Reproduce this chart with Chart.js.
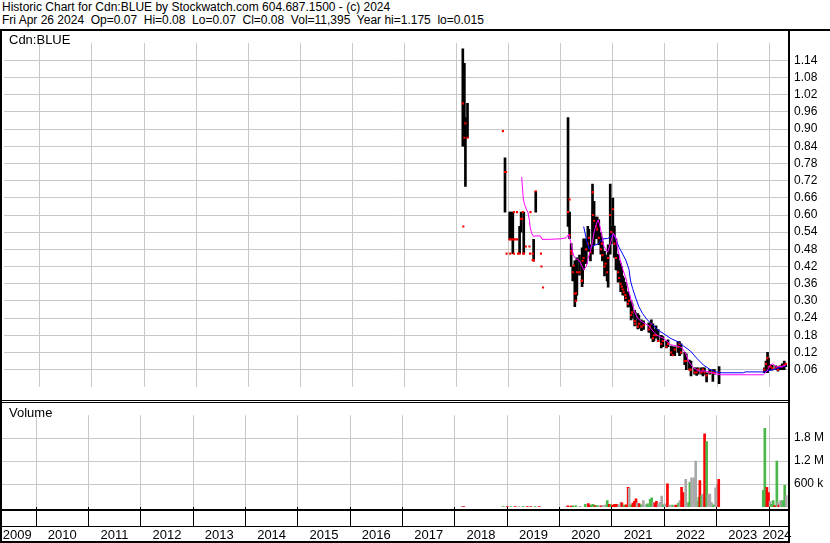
<!DOCTYPE html>
<html>
<head>
<meta charset="utf-8">
<script src="https://cdn.jsdelivr.net/npm/chart.js"></script>
<style>
  body { margin: 0; background: #fff; }
  #wrap { position: relative; width: 830px; height: 543px; overflow: hidden; font-family: "Liberation Sans", Arial, sans-serif; color: #000; }
  .hdr { position: absolute; left: 2px; font-size: 12px; line-height: 13px; white-space: pre; }
  .lbl { position: absolute; left: 9px; font-size: 13px; line-height: 14px; }
  .ln { position: absolute; background: #000; }
  canvas { position: absolute; left: 0; }
</style>
</head>
<body>
<div id="wrap">
  <div class="hdr" style="top:1px">Historic Chart for Cdn:BLUE by Stockwatch.com 604.687.1500 - (c) 2024</div>
  <div class="hdr" style="top:14px">Fri Apr 26 2024  Op=0.07  Hi=0.08  Lo=0.07  Cl=0.08  Vol=11,395  Year hi=1.175  lo=0.015</div>

  <canvas id="price" width="830" height="368" style="top:31px"></canvas>
  <canvas id="volume" width="830" height="140" style="top:403px"></canvas>

  <div class="lbl" style="top:33px">Cdn:BLUE</div>
  <div class="lbl" style="top:406px">Volume</div>

  <!-- frame lines -->
  <div class="ln" style="left:0;top:29px;width:830px;height:2px"></div>
  <div class="ln" style="left:0;top:29px;width:2px;height:514px"></div>
  <div class="ln" style="left:788px;top:29px;width:2px;height:514px"></div>
  <div class="ln" style="left:0;top:400px;width:789px;height:1px"></div>
  <div class="ln" style="left:0;top:402px;width:789px;height:1px"></div>
  <div class="ln" style="left:0;top:509px;width:789px;height:2px"></div>
  <div class="ln" style="left:0;top:526px;width:789px;height:1px"></div>
  <div class="ln" style="left:0;top:541px;width:789px;height:2px"></div>
</div>

<script>
// ---- data ----
// weekly price bars (decimal year, high, low, close)
const barDates = [2018.12, 2018.15, 2018.17, 2018.21, 2018.93, 2019.02, 2019.04, 2019.08, 2019.21, 2019.24, 2019.29, 2019.48, 2019.52,
  2020.14, 2020.17, 2020.20, 2020.23, 2020.27, 2020.29, 2020.31, 2020.36, 2020.41, 2020.42, 2020.44, 2020.49, 2020.52, 2020.54, 2020.57,
  2020.61, 2020.62, 2020.64, 2020.68, 2020.70, 2020.73, 2020.77, 2020.79, 2020.80, 2020.84, 2020.86, 2020.89, 2020.91, 2020.95, 2020.97,
  2021.00, 2021.03, 2021.06, 2021.10, 2021.12, 2021.15, 2021.17, 2021.19, 2021.21, 2021.24, 2021.25, 2021.29, 2021.31, 2021.35, 2021.37,
  2021.42, 2021.43, 2021.48, 2021.50, 2021.55, 2021.59, 2021.69, 2021.71, 2021.74, 2021.77, 2021.79, 2021.83, 2021.87, 2021.93, 2021.96,
  2022.03, 2022.06, 2022.12, 2022.15, 2022.19, 2022.25, 2022.28, 2022.31, 2022.38, 2022.41, 2022.47, 2022.50, 2022.57, 2022.61, 2022.64,
  2022.70, 2022.73, 2022.76, 2022.80, 2022.86, 2022.92, 2022.95, 2023.04,
  2023.91, 2023.94, 2023.97, 2023.99, 2024.03, 2024.06, 2024.13, 2024.17, 2024.21, 2024.25, 2024.29, 2024.32];
const barHighs = [1.18, 1.13, 0.94, 0.99, 0.80, 0.61, 0.61, 0.61, 0.56, 0.61, 0.61, 0.515, 0.683,
  0.94, 0.61, 0.50, 0.42, 0.44, 0.44, 0.45, 0.46, 0.485, 0.47, 0.517, 0.517, 0.56, 0.55, 0.496,
  0.708, 0.615, 0.648, 0.593, 0.593, 0.583, 0.539, 0.52, 0.507, 0.474, 0.46, 0.452, 0.496, 0.708, 0.56,
  0.659, 0.561, 0.517, 0.463, 0.44, 0.43, 0.42, 0.387, 0.38, 0.365, 0.35, 0.332, 0.32, 0.30, 0.29,
  0.267, 0.26, 0.256, 0.25, 0.234, 0.23, 0.223, 0.22, 0.234, 0.22, 0.20, 0.213, 0.20, 0.18, 0.175,
  0.16, 0.164, 0.142, 0.14, 0.14, 0.158, 0.158, 0.15, 0.12, 0.115, 0.093, 0.09, 0.066, 0.066, 0.066,
  0.066, 0.066, 0.066, 0.049, 0.06, 0.06, 0.06, 0.071,
  0.066, 0.09, 0.12, 0.10, 0.077, 0.075, 0.073, 0.07, 0.073, 0.08, 0.09, 0.08];
const barLows = [0.84, 0.84, 0.70, 0.87, 0.61, 0.515, 0.515, 0.465, 0.465, 0.54, 0.465, 0.44, 0.61,
  0.56, 0.517, 0.42, 0.37, 0.28, 0.30, 0.32, 0.39, 0.35, 0.36, 0.41, 0.43, 0.474, 0.474, 0.44,
  0.463, 0.54, 0.496, 0.517, 0.517, 0.496, 0.463, 0.47, 0.44, 0.387, 0.40, 0.37, 0.348, 0.463, 0.50,
  0.539, 0.452, 0.408, 0.365, 0.37, 0.332, 0.34, 0.321, 0.32, 0.30, 0.30, 0.278, 0.28, 0.234, 0.24,
  0.213, 0.215, 0.202, 0.205, 0.196, 0.20, 0.191, 0.19, 0.17, 0.158, 0.16, 0.17, 0.158, 0.136, 0.14,
  0.136, 0.14, 0.109, 0.11, 0.109, 0.12, 0.109, 0.115, 0.077, 0.06, 0.06, 0.038, 0.044, 0.04, 0.044,
  0.044, 0.038, 0.044, 0.017, 0.044, 0.019, 0.044, 0.011,
  0.049, 0.05, 0.049, 0.06, 0.06, 0.058, 0.06, 0.055, 0.06, 0.06, 0.06, 0.07];
const barCloses = [0.99, 0.87, 0.92, 0.87, 0.75, 0.515, 0.515, 0.515, 0.465, 0.587, 0.465, 0.44, 0.683,
  0.61, 0.53, 0.474, 0.40, 0.325, 0.30, 0.40, 0.40, 0.37, 0.44, 0.45, 0.48, 0.50, 0.52, 0.47,
  0.68, 0.60, 0.58, 0.56, 0.55, 0.52, 0.48, 0.50, 0.46, 0.42, 0.43, 0.40, 0.45, 0.60, 0.54,
  0.62, 0.50, 0.45, 0.40, 0.38, 0.36, 0.35, 0.34, 0.33, 0.32, 0.31, 0.29, 0.30, 0.25, 0.26,
  0.23, 0.22, 0.21, 0.22, 0.21, 0.215, 0.20, 0.21, 0.22, 0.17, 0.18, 0.18, 0.16, 0.15, 0.16,
  0.14, 0.15, 0.12, 0.11, 0.13, 0.14, 0.15, 0.12, 0.09, 0.09, 0.06, 0.06, 0.05, 0.05, 0.06,
  0.05, 0.06, 0.05, 0.04, 0.05, 0.05, 0.05, 0.05,
  0.06, 0.08, 0.10, 0.07, 0.07, 0.065, 0.065, 0.06, 0.07, 0.07, 0.075, 0.08];

// single-price days (high = low), drawn as lone red dots
const dotDates = [2018.13, 2018.89, 2018.95, 2018.96, 2019.03, 2019.10, 2019.18, 2019.28, 2019.41, 2019.46, 2019.62,
  2019.10, 2019.16, 2019.27, 2019.42, 2019.26, 2019.33, 2019.40, 2019.46, 2019.48, 2019.63, 2019.66, 2019.12, 2019.16,
  2020.17, 2020.21, 2020.25, 2020.29, 2020.40, 2020.62];
const dotPrices = [0.56, 0.893, 0.75, 0.465, 0.465, 0.465, 0.465, 0.465, 0.465, 0.465, 0.465,
  0.61, 0.61, 0.61, 0.61, 0.587, 0.49, 0.49, 0.443, 0.443, 0.42, 0.347, 0.515, 0.515,
  0.654, 0.465, 0.423, 0.327, 0.37, 0.68];

// short moving average (magenta)
const fastMaDates = [2019.25, 2019.28, 2019.30, 2019.34, 2019.37, 2019.40, 2019.41, 2019.44, 2019.48, 2019.51, 2019.61, 2019.64,
  2019.78, 2020.01, 2020.10, 2020.15, 2020.20, 2020.23, 2020.26, 2020.36, 2020.40, 2020.44, 2020.49, 2020.52, 2020.57, 2020.61,
  2020.64, 2020.69, 2020.72, 2020.76, 2020.80, 2020.83, 2020.90, 2020.96, 2021.01, 2021.06, 2021.09, 2021.14, 2021.19, 2021.25,
  2021.31, 2021.38, 2021.44, 2021.50, 2021.60, 2021.69, 2021.79, 2021.85, 2021.98, 2022.11, 2022.24, 2022.33, 2022.40, 2022.46,
  2022.55, 2022.65, 2022.78, 2022.90, 2023.00, 2023.10, 2023.89, 2023.96, 2024.02, 2024.07, 2024.15, 2024.24, 2024.32];
const fastMaValues = [0.733, 0.66, 0.64, 0.62, 0.61, 0.58, 0.56, 0.537, 0.525, 0.527, 0.527, 0.515,
  0.515, 0.517, 0.52, 0.532, 0.50, 0.47, 0.452, 0.44, 0.425, 0.408, 0.42, 0.445, 0.475, 0.505,
  0.54, 0.572, 0.583, 0.555, 0.517, 0.49, 0.47, 0.505, 0.536, 0.52, 0.485, 0.445, 0.41, 0.38,
  0.33, 0.285, 0.252, 0.235, 0.223, 0.213, 0.19, 0.18, 0.169, 0.147, 0.142, 0.136, 0.115, 0.087,
  0.066, 0.055, 0.055, 0.049, 0.044, 0.042, 0.042, 0.055, 0.076, 0.08, 0.069, 0.071, 0.076];

// long moving average (blue)
const slowMaDates = [2020.44, 2020.49, 2020.54, 2020.61, 2020.71, 2020.77, 2020.83, 2020.90, 2020.96, 2021.01, 2021.06, 2021.12,
  2021.19, 2021.25, 2021.31, 2021.34, 2021.38, 2021.44, 2021.50, 2021.57, 2021.66, 2021.79, 2021.85, 2021.98, 2022.11, 2022.24,
  2022.36, 2022.49, 2022.62, 2022.74, 2022.87, 2023.00, 2023.10, 2023.51, 2023.54, 2023.92, 2023.96, 2024.08, 2024.24, 2024.32];
const slowMaValues = [0.56, 0.517, 0.482, 0.492, 0.498, 0.51, 0.517, 0.518, 0.524, 0.534, 0.514, 0.487,
  0.463, 0.442, 0.41, 0.37, 0.343, 0.31, 0.28, 0.256, 0.234, 0.213, 0.20, 0.185, 0.169, 0.158,
  0.142, 0.125, 0.098, 0.076, 0.06, 0.051, 0.049, 0.049, 0.052, 0.052, 0.055, 0.06, 0.069, 0.073];

// weekly volume (decimal year, shares, direction u=up d=down n=unchanged)
const volDates = [2018.14, 2018.17, 2018.92, 2019.00, 2019.07, 2019.15, 2019.22, 2019.30, 2019.38, 2019.45, 2019.53, 2019.61,
  2020.12, 2020.16, 2020.22, 2020.26, 2020.31, 2020.39, 2020.49, 2020.55, 2020.58, 2020.61, 2020.64, 2020.68, 2020.71, 2020.76,
  2020.80, 2020.83, 2020.87, 2020.91, 2020.95, 2020.98, 2021.01, 2021.05, 2021.09, 2021.13, 2021.17, 2021.19, 2021.23, 2021.27,
  2021.31, 2021.33, 2021.36, 2021.40, 2021.43, 2021.46, 2021.48, 2021.52, 2021.56, 2021.60, 2021.65, 2021.68, 2021.73, 2021.76,
  2021.79, 2021.82, 2021.85, 2021.89, 2021.92, 2021.95, 2021.98, 2022.01, 2022.06, 2022.11, 2022.16, 2022.19, 2022.22, 2022.27,
  2022.30, 2022.33, 2022.36, 2022.41, 2022.44, 2022.47, 2022.49, 2022.52, 2022.57, 2022.60, 2022.63, 2022.66, 2022.68, 2022.71,
  2022.74, 2022.77, 2022.81, 2022.84, 2022.87, 2022.90, 2022.94, 2022.98, 2023.01, 2023.04,
  2023.89, 2023.92, 2023.96, 2023.99, 2024.02, 2024.05, 2024.08, 2024.11, 2024.15, 2024.17, 2024.19, 2024.22, 2024.26, 2024.30, 2024.33];
const volValues = [15000, 10000, 12000, 10000, 10000, 12000, 10000, 10000, 8000, 10000, 10000, 10000,
  7000, 30000, 25000, 30000, 30000, 20000, 70000, 92000, 40000, 60000, 69000, 40000, 40000, 40000,
  30000, 40000, 50000, 170000, 70000, 60000, 53000, 70000, 70000, 60000, 123000, 110000, 50000, 60000,
  515000, 490000, 60000, 100000, 150000, 215000, 100000, 90000, 60000, 169000, 60000, 80000, 200000, 238000,
  120000, 100000, 150000, 80000, 120000, 284000, 60000, 80000, 607000, 50000, 50000, 40000, 50000, 100000,
  169000, 515000, 376000, 723000, 100000, 120000, 646000, 761000, 761000, 1200000, 150000, 250000, 692000, 300000,
  338000, 1915000, 1708000, 330000, 338000, 123000, 60000, 500000, 607000, 723000,
  438000, 2054000, 515000, 376000, 146000, 69000, 169000, 40000, 1200000, 120000, 53000, 169000, 169000, 569000, 300000];
const volDirs = ['n', 'd', 'u', 'd', 'u', 'd', 'n', 'u', 'd', 'd', 'u', 'd',
  'n', 'd', 'd', 'u', 'u', 'n', 'u', 'd', 'd', 'u', 'u', 'd', 'u', 'n',
  'd', 'n', 'n', 'u', 'd', 'u', 'd', 'd', 'd', 'n', 'n', 'd', 'u', 'd',
  'd', 'n', 'u', 'd', 'd', 'd', 'n', 'd', 'u', 'n', 'n', 'u', 'u', 'u',
  'n', 'd', 'd', 'n', 'n', 'n', 'u', 'n', 'd', 'n', 'u', 'n', 'd', 'u',
  'n', 'd', 'd', 'n', 'n', 'u', 'u', 'n', 'n', 'n', 'n', 'u', 'd', 'u',
  'n', 'd', 'u', 'n', 'n', 'n', 'u', 'n', 'n', 'd',
  'u', 'u', 'd', 'd', 'n', 'u', 'u', 'd', 'u', 'n', 'd', 'n', 'u', 'u', 'n'];

// axis ticks
const yearLabels = ['2009', '2010', '2011', '2012', '2013', '2014', '2015', '2016', '2017', '2018', '2019', '2020', '2021', '2022', '2023', '2024'];
const priceTicks = [0.06, 0.12, 0.18, 0.24, 0.30, 0.36, 0.42, 0.48, 0.54, 0.60, 0.66, 0.72, 0.78, 0.84, 0.90, 0.96, 1.02, 1.08, 1.14];
const volTicks = [600000, 1200000, 1800000];
const volTickLabels = ['600 k', '1.2 M', '1.8 M'];

// ---- chart setup ----
Chart.defaults.font.family = '"Liberation Sans", Arial, sans-serif';
Chart.defaults.font.size = 12;
Chart.defaults.color = '#000';

const X_MIN = 2009.312, X_MAX = 2024.382;
const GRID = '#c8c8c8';
const VOL_COLORS = { u: '#4cb84c', d: '#ff0000', n: '#a9a9a9' };

const yearLines = yearLabels.map(Number).filter(y => y > X_MIN && y < X_MAX);
// label sits mid-year, pulled inside the plot at both ends
const yearLabelPos = yearLabels.map(y => Math.min(Math.max(Number(y) + 0.5, X_MIN + 0.33), X_MAX - 0.23));
const labelAt = new Map(yearLabelPos.map((p, i) => [p, yearLabels[i]]));

const commonPlugins = { legend: { display: false }, tooltip: { enabled: false } };

new Chart(document.getElementById('price'), {
    type: 'bar',
    data: {
        datasets: [
            { type: 'line', data: fastMaDates.map((d, i) => ({ x: d, y: fastMaValues[i] })), borderColor: '#ff00ff', borderWidth: 1, pointRadius: 0, tension: 0, order: 0 },
            { type: 'line', data: slowMaDates.map((d, i) => ({ x: d, y: slowMaValues[i] })), borderColor: '#0000ff', borderWidth: 1, pointRadius: 0, tension: 0, order: 0 },
            { type: 'scatter', data: barDates.map((d, i) => ({ x: d, y: barCloses[i] })).concat(dotDates.map((d, i) => ({ x: d, y: dotPrices[i] }))),
              pointStyle: 'rect', pointRadius: 1.5, backgroundColor: '#ff0000', borderWidth: 0, order: 1 },
            { type: 'bar', data: barDates.map((d, i) => ({ x: d, y: [barLows[i], barHighs[i]] })), backgroundColor: '#000', barThickness: 2, order: 2 }
        ]
    },
    options: {
        responsive: false,
        animation: false,
        layout: { padding: 0 },
        plugins: commonPlugins,
        scales: {
            x: {
                type: 'linear', min: X_MIN, max: X_MAX, offset: false,
                afterBuildTicks: s => { s.ticks = yearLines.map(v => ({ value: v })); },
                afterFit: s => { s.height = 0; },
                grid: { color: GRID, drawTicks: false, offset: false },
                border: { display: false },
                ticks: { display: false }
            },
            y: {
                position: 'right', min: 0, max: 1.2,
                afterBuildTicks: s => { s.ticks = priceTicks.map(v => ({ value: v })); },
                afterFit: s => { s.width = 41; },
                grid: { color: GRID, drawTicks: false },
                border: { display: false },
                ticks: { padding: 5, callback: v => v.toFixed(2) }
            }
        }
    }
});

new Chart(document.getElementById('volume'), {
    type: 'bar',
    data: {
        datasets: [{
            data: volDates.map((d, i) => ({ x: d, y: volValues[i] })),
            backgroundColor: volDirs.map(k => VOL_COLORS[k]),
            barThickness: 2
        }]
    },
    options: {
        responsive: false,
        animation: false,
        layout: { padding: 0 },
        plugins: commonPlugins,
        scales: {
            x: {
                type: 'linear', min: X_MIN, max: X_MAX, offset: false,
                afterBuildTicks: s => { s.ticks = yearLines.concat(yearLabelPos).sort((a, b) => a - b).map(v => ({ value: v })); },
                afterFit: s => { s.height = 36; },
                grid: {
                    offset: false,
                    color: c => Number.isInteger(c.tick.value) ? GRID : 'rgba(0,0,0,0)',
                    tickColor: c => Number.isInteger(c.tick.value) ? '#000' : 'rgba(0,0,0,0)',
                    tickLength: 20
                },
                border: { display: false },
                ticks: {
                    autoSkip: false, maxRotation: 0, padding: 1,
                    font: { size: 13 },
                    callback: v => labelAt.get(v) || ''
                }
            },
            y: {
                position: 'right', min: 0, max: 2400000,
                afterBuildTicks: s => { s.ticks = volTicks.map(v => ({ value: v })); },
                afterFit: s => { s.width = 41; },
                grid: { color: GRID, drawTicks: false },
                border: { display: false },
                ticks: { padding: 5, callback: v => volTickLabels[volTicks.indexOf(v)] }
            }
        }
    }
});
</script>
</body>
</html>
